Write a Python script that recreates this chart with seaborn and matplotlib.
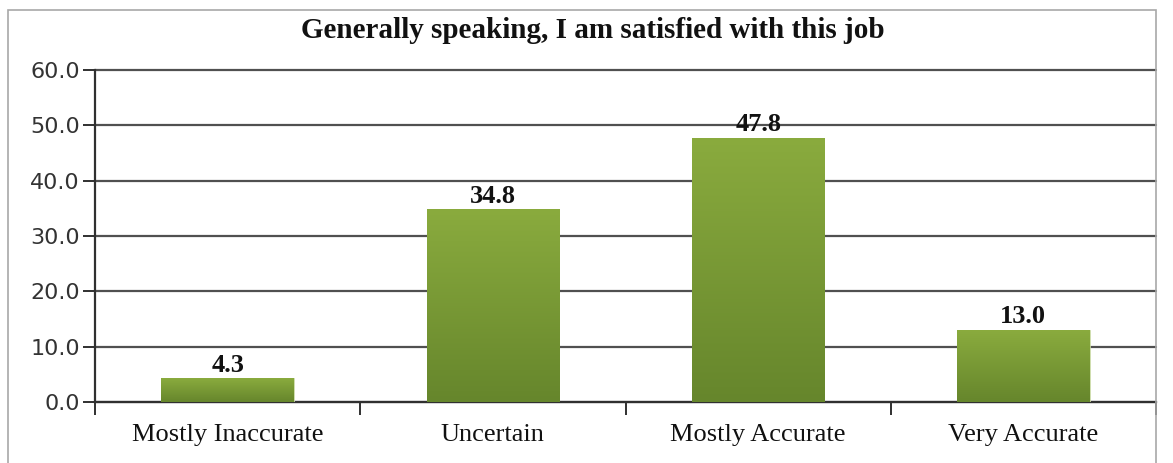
import numpy as np
import pandas as pd
import seaborn as sns
import matplotlib.pyplot as plt
from matplotlib.patches import Rectangle
from matplotlib.colors import LinearSegmentedColormap

# data
categorias = ['Mostly Inaccurate', 'Uncertain', 'Mostly Accurate', 'Very Accurate']
percentuais = [4.3, 34.8, 47.8, 13.0]
titulo = 'Generally speaking, I am satisfied with this job'

tabela = pd.DataFrame({'categoria': categorias, 'valor': percentuais})

sns.set_theme(style='white')
plt.rcParams['font.family'] = ['DejaVu Sans']

fig = plt.figure(figsize=(11.73, 4.63), dpi=100)
ax = fig.add_axes([95 / 1173, 1 - 402 / 463, (1156 - 95) / 1173, (402 - 70) / 463])

sns.barplot(data=tabela, x='categoria', y='valor', color='#7a9a36', width=0.5,
            ax=ax, zorder=3, saturation=1)

# gradiente verde nas barras
cmap = LinearSegmentedColormap.from_list('verde', ['#66862c', '#8aab3e'])
grad = np.linspace(0, 1, 256).reshape(-1, 1)
for p in ax.patches:
    x0, y0 = p.get_x(), p.get_y()
    w, h = p.get_width(), p.get_height()
    im = ax.imshow(grad, cmap=cmap, aspect='auto', origin='lower',
                   extent=[x0, x0 + w, y0, y0 + h], zorder=4)
    im.set_clip_path(p)
    p.set_facecolor('none')
    p.set_edgecolor('#c8d8a0')
    p.set_linewidth(0.6)
    ax.text(x0 + w / 2, y0 + h + 0.3, f'{h:.1f}', ha='center', va='bottom',
            family='Liberation Serif', fontweight='bold', fontsize=19, color='#111111', zorder=5)

ax.set_xlim(-0.5, len(categorias) - 0.5)
ax.set_ylim(0, 60)
ax.set_yticks(np.arange(0, 61, 10))
ax.set_yticklabels([f'{v:.1f}' for v in np.arange(0, 61, 10)], fontsize=16, color='#333333')
ax.set_xticks(range(len(categorias)))
ax.set_xticklabels(categorias, family='Liberation Serif', fontsize=19, color='#111111')
ax.set_xlabel('')
ax.set_ylabel('')

# linhas de grade
ax.yaxis.grid(True, color='#505050', linewidth=1.6, zorder=1)
ax.set_axisbelow(True)
for g in ax.get_ygridlines():
    g.set_clip_on(False)
for s in ['top', 'right']:
    ax.spines[s].set_visible(False)
for s in ['left', 'bottom']:
    ax.spines[s].set_color('#303030')
    ax.spines[s].set_linewidth(1.6)

# ticks: y para fora, x nas divisões entre categorias
ax.tick_params(axis='y', length=9, width=1.4, color='#303030', pad=2, left=True)
ax.tick_params(axis='x', length=0, pad=16)
ax.set_xticks(np.arange(-0.5, len(categorias), 1), minor=True)
ax.tick_params(axis='x', which='minor', length=9, width=1.4, color='#303030', bottom=True)

fig.text(0.505, 1 - 31 / 463, titulo, ha='center', va='center',
         family='Liberation Serif', fontweight='bold', fontsize=21, color='#111111')

# moldura
fig.patches.append(Rectangle((8 / 1173, -0.01), (1156 - 8) / 1173, 1 - 10 / 463 + 0.01,
                             transform=fig.transFigure, fill=False,
                             edgecolor='#a8a8a8', linewidth=1.2))

fig.savefig('out.png', dpi=100)
